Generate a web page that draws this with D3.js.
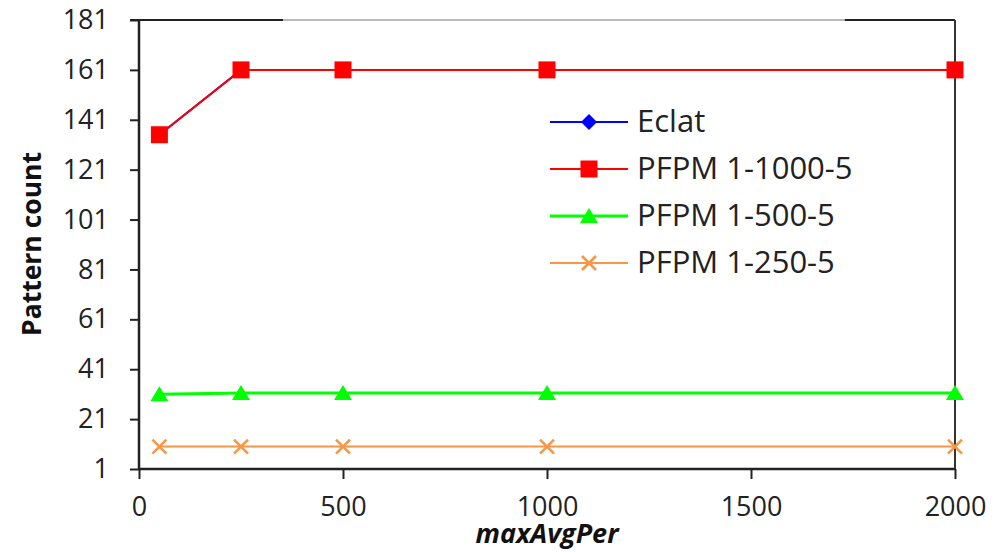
<!DOCTYPE html>
<html>
<head>
<meta charset="utf-8">
<script src="https://cdn.jsdelivr.net/npm/d3@7/dist/d3.min.js"></script>
<style>
  body { margin: 0; background: #fff; }
  svg { display: block; font-family: "Open Sans", sans-serif; }
</style>
</head>
<body>
<svg id="chart" width="1002" height="552"></svg>
<script>
// data
let xValues = [50, 250, 500, 1000, 2000];
let eclat = [135, 161, 161, 161, 161];
let pfpm1000 = [135, 161, 161, 161, 161];
let pfpm500 = [31, 31.5, 31.5, 31.5, 31.5];
let pfpm250 = [10, 10, 10, 10, 10];
let seriesNames = ['Eclat', 'PFPM 1-1000-5', 'PFPM 1-500-5', 'PFPM 1-250-5'];
let xTicks = [0, 500, 1000, 1500, 2000];
let yTicks = [1, 21, 41, 61, 81, 101, 121, 141, 161, 181];

let svg = d3.select('#chart');
let margin = { left: 139, right: 47, top: 20, bottom: 83 };
let W = 1002, H = 552;

let x = d3.scaleLinear().domain([0, 2000]).range([margin.left, W - margin.right]);
let y = d3.scaleLinear().domain([1, 181]).range([H - margin.bottom, margin.top]);

let series = [
    { name: seriesNames[0], values: eclat, color: '#0000ff', sym: 'diamond', width: 2 },
    { name: seriesNames[1], values: pfpm1000, color: '#ff0000', sym: 'square', width: 2 },
    { name: seriesNames[2], values: pfpm500, color: '#00ff00', sym: 'triangle', width: 3 },
    { name: seriesNames[3], values: pfpm250, color: '#f79646', sym: 'cross', width: 2 }
];

// frame: thin top line with thicker pieces at both ends, dark right edge
svg.append('line')
    .attr('x1', x(0)).attr('x2', x(2000))
    .attr('y1', y(181)).attr('y2', y(181))
    .attr('stroke', '#777').attr('stroke-width', 1);
svg.append('line')
    .attr('x1', x(0) - 9).attr('x2', x(353))
    .attr('y1', y(181)).attr('y2', y(181))
    .attr('stroke', '#222').attr('stroke-width', 2);
svg.append('line')
    .attr('x1', x(1730)).attr('x2', x(2000))
    .attr('y1', y(181)).attr('y2', y(181))
    .attr('stroke', '#222').attr('stroke-width', 2);
svg.append('line')
    .attr('x1', x(2000)).attr('x2', x(2000))
    .attr('y1', y(181)).attr('y2', y(1))
    .attr('stroke', '#333').attr('stroke-width', 2);

// axes
let yAxis = svg.append('g')
    .attr('transform', 'translate(' + x(0) + ',0)')
    .call(d3.axisLeft(y).tickValues(yTicks).tickFormat(d3.format('d'))
	  .tickSize(9).tickPadding(21));
let xAxis = svg.append('g')
    .attr('transform', 'translate(0,' + y(1) + ')')
    .call(d3.axisBottom(x).tickValues(xTicks).tickFormat(d3.format('d'))
	  .tickSize(10).tickPadding(18));

[xAxis, yAxis].forEach(function(ax) {
    ax.select('.domain').attr('stroke', '#222').attr('stroke-width', 2.5);
    ax.selectAll('.tick line').attr('stroke', '#222').attr('stroke-width', 2);
    ax.selectAll('.tick text')
	.attr('fill', '#222')
	.style('font-family', '"Open Sans", sans-serif')
	.style('font-size', '27px');
});
xAxis.select('.domain').attr('d', 'M' + x(0) + ',0H' + x(2000));
yAxis.select('.domain').attr('d', 'M0,' + y(1) + 'V' + y(181));

// axis titles
svg.append('text')
    .attr('x', (x(0) + x(2000)) / 2)
    .attr('y', 543)
    .attr('text-anchor', 'middle')
    .style('font-size', '27px')
    .style('font-weight', 'bold')
    .style('font-style', 'italic')
    .attr('fill', '#111')
    .text('maxAvgPer');

svg.append('text')
    .attr('transform', 'translate(41,' + 244 + ') rotate(-90)')
    .attr('text-anchor', 'middle')
    .style('font-size', '26.5px')
    .style('font-weight', 'bold')
    .attr('fill', '#111')
    .text('Pattern count');

// marker drawing
function drawMarker(g, s, cx, cy) {
    if (s.sym === 'square') {
	g.append('rect')
	    .attr('x', cx - 8.5).attr('y', cy - 8.5)
	    .attr('width', 17).attr('height', 17)
	    .attr('fill', s.color);
    } else if (s.sym === 'diamond') {
	g.append('path')
	    .attr('d', 'M0,-8L8,0L0,8L-8,0Z')
	    .attr('transform', 'translate(' + cx + ',' + cy + ')')
	    .attr('fill', s.color);
    } else if (s.sym === 'triangle') {
	g.append('path')
	    .attr('d', 'M0,-8L9,7L-9,7Z')
	    .attr('transform', 'translate(' + cx + ',' + cy + ')')
	    .attr('fill', s.color);
    } else {
	g.append('path')
	    .attr('d', 'M-7,-7L7,7M-7,7L7,-7')
	    .attr('transform', 'translate(' + cx + ',' + cy + ')')
	    .attr('stroke', s.color)
	    .attr('stroke-width', 2.5)
	    .attr('fill', 'none');
    }
}

let lineFunc = d3.line()
    .x(function(d) { return x(d[0]); })
    .y(function(d) { return y(d[1]); });

series.forEach(function(s) {
    let pts = xValues.map(function(v, i) { return [v, s.values[i]]; });
    let g = svg.append('g');
    g.append('path')
	.attr('d', lineFunc(pts))
	.attr('fill', 'none')
	.attr('stroke', s.color)
	.attr('stroke-width', s.width);
    pts.forEach(function(p) {
	drawMarker(g, s, x(p[0]), y(p[1]));
    });
});

// legend
let legend = svg.append('g').attr('class', 'legend');
series.forEach(function(s, i) {
    let ly = 122 + i * 47;
    legend.append('line')
	.attr('x1', 550).attr('x2', 628)
	.attr('y1', ly).attr('y2', ly)
	.attr('stroke', s.color)
	.attr('stroke-width', s.width);
    drawMarker(legend, s, 589, ly);
    legend.append('text')
	.attr('x', 637)
	.attr('y', ly + 10)
	.style('font-size', '31px')
	.attr('fill', '#222')
	.text(s.name);
});
</script>
</body>
</html>
